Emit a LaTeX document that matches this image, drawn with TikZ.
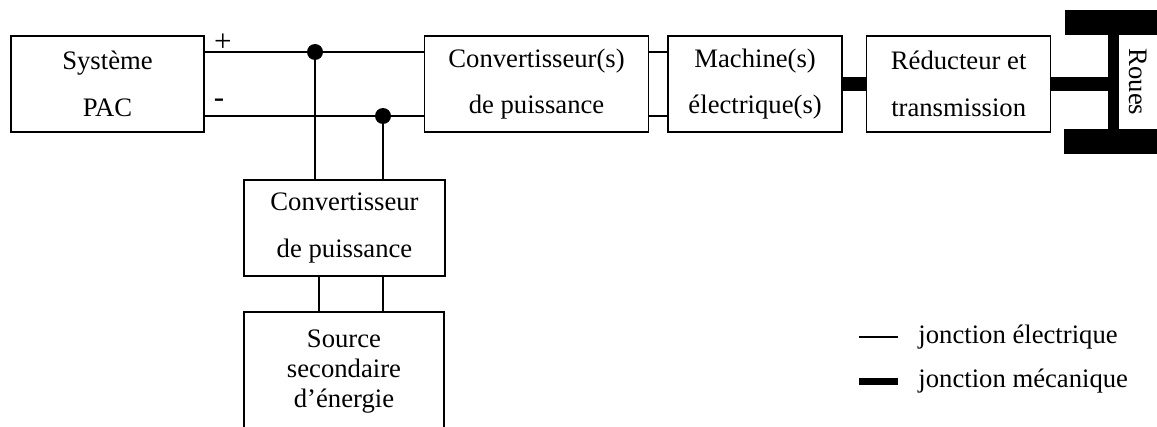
\documentclass[tikz,border=0pt]{standalone}
\usepackage{fontspec}
\setmainfont{Liberation Serif}
\usetikzlibrary{positioning}
\tikzstyle{bloc} = [rectangle, draw=black, line width=0.7pt, minimum height=43.2pt, inner sep=0pt, align=center, font=\fontsize{12}{21}\selectfont]
\tikzstyle{source} = [rectangle, draw=black, line width=0.7pt, minimum width=90pt, inner xsep=0pt, inner ysep=8pt, text depth=80pt, anchor=north, align=center, font=\fontsize{12}{13.5}\selectfont]
\tikzstyle{elec} = [line width=0.8pt]
\tikzstyle{meca} = [line width=6pt]
\tikzstyle{legende} = [anchor=west, inner sep=0pt, font=\fontsize{12}{14}\selectfont]

\begin{document}
\begin{tikzpicture}[x=0.45pt, y=-0.45pt]
	\clip (0,0) rectangle (1157,427);
	\node (pac) [bloc, minimum width=86.85pt] at (107.5,84) {Système\\PAC};
	\node (conv) [bloc, minimum width=100.8pt, right=98.55pt of pac] {Convertisseur(s)\\de puissance};
	\node (mach) [bloc, minimum width=78.3pt, right=8.1pt of conv] {Machine(s)\\électrique(s)};
	\node (red) [bloc, minimum width=82.8pt, right=10.35pt of mach] {Réducteur et\\transmission};
	\node (cb) [bloc, minimum width=90.45pt] at (344.5,228) {Convertisseur\\de puissance};
	\node (src) [source] at (344,311) {Source\\secondaire\\d’énergie};
	\node (roues) [rotate=-90, inner sep=0pt, font=\fontsize{12}{14}\selectfont] at (1138,82) {Roues};
	\node (plus) [inner sep=0pt, font=\fontsize{14}{16}\selectfont] at (223,43) {+};
	\node (moins) [inner sep=0pt, font=\fontsize{14}{16}\selectfont] at (219,103) {-};
	\coordinate (j1) at (315,52);
	\coordinate (j2) at (383,116);
	\coordinate (axe) at (1108,84);
	% bus continu
	\draw [elec] ([yshift=14.4pt]pac.east) -- ([yshift=14.4pt]conv.west);
	\draw [elec] ([yshift=-14.4pt]pac.east) -- ([yshift=-14.4pt]conv.west);
	\draw [elec] ([yshift=14.4pt]conv.east) -- ([yshift=14.4pt]mach.west);
	\draw [elec] ([yshift=-14.4pt]conv.east) -- ([yshift=-14.4pt]mach.west);
	\draw [elec] (j1) -- (j1 |- cb.north);
	\draw [elec] (j2) -- (j2 |- cb.north);
	\fill (j1) circle (8);
	\fill (j2) circle (8);
	\draw [elec] ([xshift=-11.5pt]cb.south) -- ([xshift=-11.5pt]cb.south |- src.north);
	\draw [elec] ([xshift=17.3pt]cb.south) -- ([xshift=17.3pt]cb.south |- src.north);
	% liaisons mecaniques
	\draw [meca] (mach) -- (red);
	\draw [meca] (red.east) -- (axe);
	\fill (1065,10) rectangle (1160,35);
	\fill (1064,129) rectangle (1160,154);
	\fill (1108,35) rectangle (1119,129);
	% legende
	\node (lel) [legende] at (918,337) {jonction électrique};
	\node (lme) [legende] at (918,381) {jonction mécanique};
	\draw [elec] ([xshift=-26.55pt]lel.west) -- ([xshift=-9pt]lel.west);
	\draw [line width=3.15pt] ([xshift=-26.55pt]lme.west) -- ([xshift=-9pt]lme.west);
\end{tikzpicture}
\end{document}
